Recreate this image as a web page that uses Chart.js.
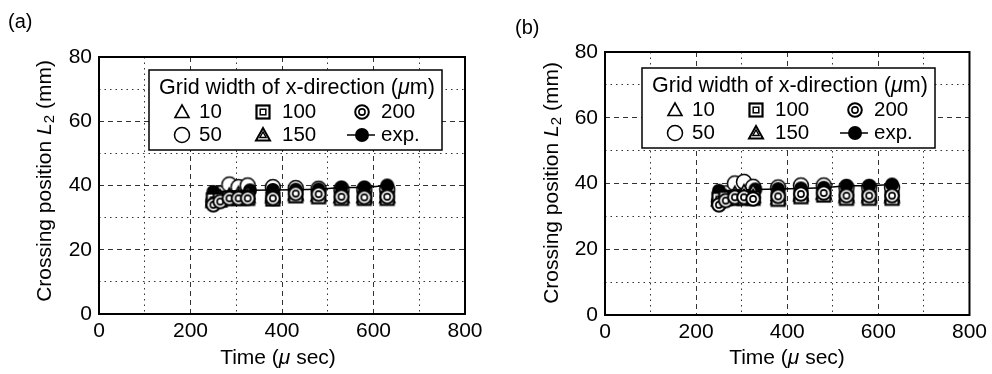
<!DOCTYPE html>
<html>
<head>
<meta charset="utf-8">
<script src="https://cdn.jsdelivr.net/npm/chart.js@4"></script>
<style>
  html, body { margin: 0; padding: 0; background: #fff; }
  body { width: 992px; height: 374px; position: relative; overflow: hidden; }
  canvas { position: absolute; top: 0; }
  #chartA { left: 0; }
  #chartB { left: 490px; }
</style>
</head>
<body>
<canvas id="chartA" width="490" height="374"></canvas>
<canvas id="chartB" width="502" height="374"></canvas>
<script>
// time axis (µs) of the simulated and measured points
const simTime = [250, 265, 285, 305, 325, 380, 430, 480, 530, 580, 630];
const expTime = [250, 330, 380, 430, 480, 530, 580, 630];

// panel (a): crossing position L2 (mm)
const a10  = [35.5, 36.5, 37, 37.5, 37.5, 37, 37.5, 37, 36.5, 36.5, 36.5];
const a50  = [35, 37.5, 40.3, 39.5, 40, 39.5, 39.2, 39, 38.8, 38.8, 38.8];
const a100 = [35.5, 35.5, 36, 36, 36, 35.8, 36.8, 36.5, 36, 36, 36];
const a150 = [35, 36, 36.5, 36.5, 36.5, 36.5, 37.2, 37, 36.5, 36.5, 36.5];
const a200 = [34, 35, 36, 36, 36, 36, 37.5, 37.3, 36.5, 36.3, 36.5];
const aExp = [38, 38.5, 38.6, 38.7, 38.8, 39.4, 39.4, 40];

// panel (b)
const b10  = [35, 36, 37, 37.5, 37.5, 36.5, 37, 37, 36.5, 36.5, 36.5];
const b50  = [34.5, 37, 40, 40.5, 39, 38.8, 39.4, 39.4, 38.8, 38.8, 38.8];
const b100 = [35.2, 35.5, 35.5, 35.5, 35.5, 35.2, 36, 36.5, 35.5, 35.5, 35.5];
const b150 = [35, 35.5, 36, 36, 36, 35.5, 36.5, 37, 36, 36, 36];
const b200 = [33.5, 34.8, 35.8, 35.8, 35.3, 36.1, 36.8, 37.1, 36.3, 36.3, 36.3];
const bExp = [37.8, 38.2, 38.3, 38.5, 38.7, 39.3, 39.3, 39.7];

const xTicks = [0, 200, 400, 600, 800];
const yTicks = [0, 20, 40, 60, 80];
const legendTitle = "Grid width of x-direction (";
const legendLabels = ["10", "100", "200", "50", "150", "exp."];

const FONT = '"Liberation Sans", Arial, sans-serif';

function marker(kind) {
  const c = document.createElement("canvas");
  c.width = 20; c.height = 20;
  const g = c.getContext("2d");
  g.translate(10, 10);
  g.strokeStyle = "#000";
  g.fillStyle = "#fff";
  g.lineWidth = 1.6;
  const tri = (s) => {
    g.beginPath();
    g.moveTo(0, -7 * s); g.lineTo(7 * s, 5.5 * s); g.lineTo(-7 * s, 5.5 * s);
    g.closePath();
  };
  if (kind === "tri") { tri(1); g.fill(); g.stroke(); }
  if (kind === "dtri") {
    g.lineWidth = 2; tri(1); g.fill(); g.stroke();
    g.lineWidth = 1.4; tri(0.45); g.stroke();
  }
  if (kind === "circle") {
    g.lineWidth = 1.5;
    g.beginPath(); g.arc(0, 0, 7.5, 0, Math.PI * 2); g.fill(); g.stroke();
  }
  if (kind === "square") {
    g.lineWidth = 2.2; g.fillRect(-6.5, -6.5, 13, 13); g.strokeRect(-6.5, -6.5, 13, 13);
    g.lineWidth = 1.5; g.strokeRect(-2.8, -2.8, 5.6, 5.6);
  }
  if (kind === "dcircle") {
    g.lineWidth = 2;
    g.beginPath(); g.arc(0, 0, 6.8, 0, Math.PI * 2); g.fill(); g.stroke();
    g.lineWidth = 1.6;
    g.beginPath(); g.arc(0, 0, 3.1, 0, Math.PI * 2); g.stroke();
  }
  if (kind === "dot") {
    g.fillStyle = "#000";
    g.beginPath(); g.arc(0, 0, 7, 0, Math.PI * 2); g.fill();
  }
  return c;
}

const mk = {
  tri: marker("tri"), circle: marker("circle"), square: marker("square"),
  dtri: marker("dtri"), dcircle: marker("dcircle"), dot: marker("dot")
};

function pts(xs, ys) {
  return xs.map((x, i) => ({ x: x, y: ys[i] }));
}

// draws frame, axis titles, inner legend and panel letter
const decor = {
  id: "decor",
  afterDraw(chart) {
    const p = chart.options.plugins.decor;
    const ctx = chart.ctx;
    const a = chart.chartArea;
    ctx.save();
    ctx.strokeStyle = "#000";
    ctx.lineWidth = 2;
    ctx.strokeRect(a.left, a.top, a.right - a.left, a.bottom - a.top);

    ctx.fillStyle = "#000";
    ctx.textBaseline = "middle";
    ctx.textAlign = "left";
    const plain = "21px " + FONT;
    const ital = "italic 21px " + FONT;
    const small = "15px " + FONT;

    // panel letter
    ctx.font = "20px " + FONT;
    ctx.fillText(p.letter, p.letterX, p.letterY);

    // x title
    const xs = [["Time (", plain], ["\u03bc", ital], [" sec)", plain]];
    let w = 0;
    xs.forEach(s => { ctx.font = s[1]; w += ctx.measureText(s[0]).width; });
    let cx = p.xTitleX - w / 2;
    xs.forEach(s => { ctx.font = s[1]; ctx.fillText(s[0], cx, p.xTitleY); cx += ctx.measureText(s[0]).width; });

    // y title (rotated)
    ctx.save();
    ctx.translate(p.yTitleX, p.yTitleY);
    ctx.rotate(-Math.PI / 2);
    const ys = [["Crossing position ", plain, 0], ["L", ital, 0], ["2", small, 5], [" (mm)", plain, 0]];
    w = 0;
    ys.forEach(s => { ctx.font = s[1]; w += ctx.measureText(s[0]).width; });
    cx = -w / 2;
    ys.forEach(s => { ctx.font = s[1]; ctx.fillText(s[0], cx, s[2]); cx += ctx.measureText(s[0]).width; });
    ctx.restore();

    // legend box
    const L = p.legend;
    ctx.fillStyle = "#fff";
    ctx.fillRect(L.x, L.y, 293, 80);
    ctx.lineWidth = 1.5;
    ctx.strokeRect(L.x, L.y, 293, 80);
    ctx.fillStyle = "#000";
    const tPlain = "21.5px " + FONT;
    const tItal = "italic 21.5px " + FONT;
    const ts = [[legendTitle, tPlain], ["\u03bc", tItal], ["m)", tPlain]];
    cx = L.x + 10;
    ts.forEach(s => { ctx.font = s[1]; ctx.fillText(s[0], cx, L.y + 18); cx += ctx.measureText(s[0]).width; });
    const icons = [mk.tri, mk.square, mk.dcircle, mk.circle, mk.dtri, mk.dot];
    const mX = [33, 114, 213];
    const tX = [50, 133, 232];
    ctx.font = "20.5px " + FONT;
    for (let i = 0; i < 6; i++) {
      const col = i % 3;
      const rowY = L.y + (i < 3 ? 42 : 65);
      const ix = L.x + mX[col];
      if (i === 5) {
        ctx.lineWidth = 1.5;
        ctx.beginPath(); ctx.moveTo(ix - 15, rowY); ctx.lineTo(ix + 13, rowY); ctx.stroke();
      }
      ctx.drawImage(icons[i], ix - 10, rowY - 10);
      ctx.fillText(legendLabels[i], L.x + tX[col], rowY);
    }
    ctx.restore();
  }
};

function makeChart(id, d, geo) {
  const sets = [
    { data: pts(simTime, d.s200), pointStyle: mk.dcircle },
    { data: pts(simTime, d.s100), pointStyle: mk.square },
    { data: pts(simTime, d.s150), pointStyle: mk.dtri },
    { data: pts(simTime, d.s10), pointStyle: mk.tri },
    { data: pts(expTime, d.exp), pointStyle: mk.dot, showLine: true, borderColor: "#000", borderWidth: 1.5 },
    { data: pts(simTime, d.s50), pointStyle: mk.circle }
  ].map(s => Object.assign({ showLine: false, pointRadius: 7, borderColor: "#000" }, s));

  const dash = (major) => (c) => (c.tick && c.tick.value % major === 0 ? [5, 4] : [1.5, 4]);

  return new Chart(document.getElementById(id), {
    type: "scatter",
    data: { datasets: sets },
    options: {
      responsive: false,
      animation: false,
      events: [],
      layout: { padding: { left: 0, top: geo.top, right: geo.right, bottom: 0 } },
      plugins: {
        legend: { display: false },
        tooltip: { enabled: false },
        decor: geo.decor
      },
      scales: {
        x: {
          type: "linear", min: 0, max: 800,
          afterFit: (s) => { s.height = geo.xh; },
          ticks: {
            stepSize: 100, padding: 5, color: "#000", maxRotation: 0,
            font: { size: 21, family: FONT },
            callback: (v) => (xTicks.includes(v) ? v : "")
          },
          grid: { color: "#333", lineWidth: 1, drawTicks: false },
          border: { display: false, dash: dash(200) }
        },
        y: {
          type: "linear", min: 0, max: 80,
          afterFit: (s) => { s.width = geo.yw; },
          ticks: {
            stepSize: 10, padding: 7, color: "#000",
            font: { size: 21, family: FONT },
            callback: (v) => (yTicks.includes(v) ? v : "")
          },
          grid: { color: "#333", lineWidth: 1, drawTicks: false },
          border: { display: false, dash: dash(20) }
        }
      }
    },
    plugins: [decor]
  });
}

makeChart("chartA", { s10: a10, s50: a50, s100: a100, s150: a150, s200: a200, exp: aExp }, {
  top: 57, right: 25, xh: 60, yw: 99,
  decor: {
    letter: "(a)", letterX: 8, letterY: 22,
    xTitleX: 278, xTitleY: 358, yTitleX: 45, yTitleY: 181,
    legend: { x: 149, y: 70 }
  }
});

makeChart("chartB", { s10: b10, s50: b50, s100: b100, s150: b150, s200: b200, exp: bExp }, {
  top: 52, right: 20, xh: 59, yw: 115,
  decor: {
    letter: "(b)", letterX: 25, letterY: 28,
    xTitleX: 297, xTitleY: 358, yTitleX: 62, yTitleY: 183,
    legend: { x: 152, y: 68 }
  }
});
</script>
</body>
</html>
